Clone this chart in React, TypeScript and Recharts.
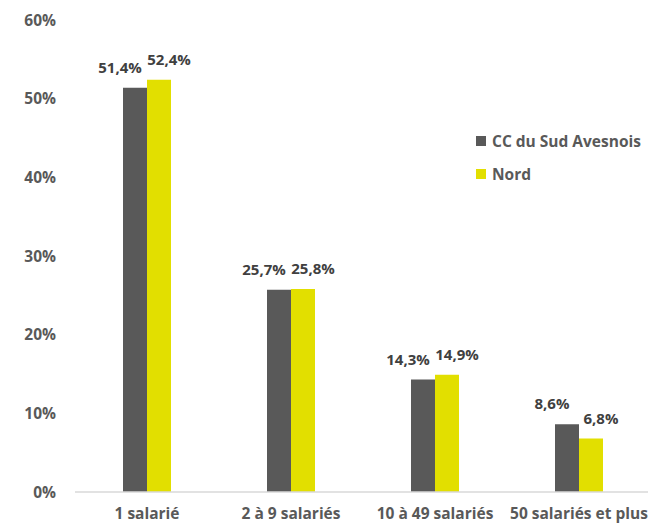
import { BarChart, Bar, XAxis, YAxis, LabelList } from 'recharts';

const DARK = '#595959';
const YELLOW = '#e2df00';
const TEXT = '#595959';
const LABEL = '#404040';
const FONT = '"Open Sans", sans-serif';

const categories = ['1 salarié', '2 à 9 salariés', '10 à 49 salariés', '50 salariés et plus'];
const sudAvesnois = [51.4, 25.7, 14.3, 8.6];
const nord = [52.4, 25.8, 14.9, 6.8];
const yTicks = [0, 10, 20, 30, 40, 50, 60];

const series = [
  { key: 'sud', name: 'CC du Sud Avesnois', color: DARK },
  { key: 'nord', name: 'Nord', color: YELLOW },
];

const data = categories.map((name, i) => ({ name, sud: sudAvesnois[i], nord: nord[i] }));

const fmt = (v: number) => v.toFixed(1).replace('.', ',') + '%';

function makeLabel(dx: number) {
  return (props: any) => {
    const { x, y, width, value } = props;
    return (
      <text
        x={x + width / 2 + dx}
        y={y - 15}
        textAnchor="middle"
        fill={LABEL}
        fontFamily={FONT}
        fontWeight={700}
        fontSize={15}
      >
        {fmt(value)}
      </text>
    );
  };
}

export default function App() {
  return (
    <div style={{ position: 'absolute', left: 0, top: 0, width: 648, height: 524, overflow: 'hidden', background: '#fff' }}>
      <BarChart
        width={660}
        height={524}
        data={data}
        margin={{ top: 20, right: 9, left: 0, bottom: 2 }}
        barGap={0}
        barSize={24}
      >
        <XAxis
          dataKey="name"
          tickLine={false}
          axisLine={{ stroke: '#d9d9d9', strokeWidth: 1.5 }}
          tick={{ fill: TEXT, fontFamily: FONT, fontWeight: 700, fontSize: 15.5 }}
          tickMargin={10}
          interval={0}
        />
        <YAxis
          width={75}
          domain={[0, 60]}
          ticks={yTicks}
          tickFormatter={(v: number) => `${v}%`}
          axisLine={false}
          tickLine={false}
          tickMargin={13}
          tick={{ fill: TEXT, fontFamily: FONT, fontWeight: 700, fontSize: 15.5 }}
        />
        <Bar dataKey="sud" name="CC du Sud Avesnois" fill={DARK} isAnimationActive={false}>
          <LabelList dataKey="sud" content={makeLabel(-15)} />
        </Bar>
        <Bar dataKey="nord" name="Nord" fill={YELLOW} isAnimationActive={false}>
          <LabelList dataKey="nord" content={makeLabel(10)} />
        </Bar>
      </BarChart>
      <div
        style={{
          position: 'absolute',
          left: 476,
          top: 124,
          fontFamily: FONT,
          fontWeight: 700,
          fontSize: 15.5,
          color: TEXT,
        }}
      >
        {series.map((s) => (
          <div key={s.key} style={{ display: 'flex', alignItems: 'center', height: 33, whiteSpace: 'nowrap' }}>
            <span style={{ width: 10, height: 10, background: s.color, marginRight: 6, display: 'inline-block' }} />
            {s.name}
          </div>
        ))}
      </div>
    </div>
  );
}
